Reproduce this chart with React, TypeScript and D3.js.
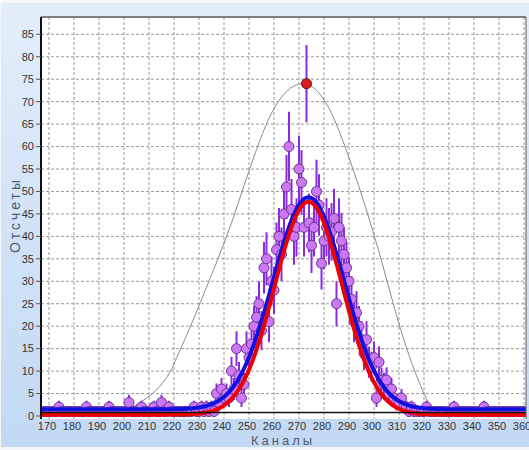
import React from "react";
import * as d3 from "d3";

// Spectrum counts, one value per channel starting at FIRST_CHANNEL
const FIRST_CHANNEL = 168;
const counts: number[] = [
  // 168-232
  1, 1, 1, 1, 1, 1, 2, 1, 1, 1, 1, 1, 1, 1, 1, 1, 1, 2, 1, 1, 1, 1, 1, 1, 1, 1,
  2, 1, 1, 1, 1, 1, 1, 1, 3, 1, 1, 1, 1, 2, 1, 1, 1, 1, 2, 1, 1, 3, 1, 1, 2, 1,
  1, 1, 1, 1, 1, 1, 1, 1, 2, 1, 1, 2, 1,
  // 233-316
  2, 1, 2, 1, 5, 3, 6, 4, 5, 4, 10, 6, 15, 9, 4, 7, 15, 13, 16, 20, 22, 25, 19,
  33, 35, 21, 30, 28, 37, 40, 36, 45, 51, 60, 46, 40, 42, 55, 52, 42, 74, 43,
  38, 42, 50, 47, 34, 39, 42, 40, 41, 44, 25, 42, 39, 36, 33, 30, 26, 21, 23,
  20, 17, 14, 17, 12, 11, 13, 4, 12, 8, 7, 8, 5, 6, 4, 3, 3, 4, 2, 2, 1, 2, 1,
  // 317-360
  1, 1, 1, 1, 2, 1, 1, 1, 1, 1, 1, 1, 1, 1, 1, 2, 1, 1, 1, 1, 1, 1, 1, 1, 1, 1,
  1, 2, 1, 1, 1, 1, 1, 1, 1, 1, 1, 1, 1, 1, 1, 1, 1, 1,
];
const channels = counts.map((_, i) => FIRST_CHANNEL + i);
const SELECTED_CHANNEL = 273;

// Initial peak estimate (thin grey curve): channel / counts
const guessChannels = [
  198, 204, 208, 213, 218, 222, 226, 232, 238, 243, 248, 253, 258, 263, 268,
  272.7, 277, 282, 286, 290, 294, 298, 302, 306, 310, 314, 318, 321, 324,
];
const guessCounts = [
  0.3, 2.2, 3.6, 5.8, 9.4, 14.2, 19.2, 27.3, 35.6, 43, 51.3, 59.3, 66.3, 71,
  73.5, 74, 72.5, 68.5, 63.5, 57.5, 51, 44, 36.5, 28.5, 20.5, 13.5, 7.6, 3.8,
  0.6,
];

// Gaussian fit parameters: [baseline, amplitude, centre, sigma]
const fitBlue = [1.5, 47.2, 273.8, 14.2];
const fitRed = [0.3, 47.4, 273.8, 13.5];

const xTicks = d3.range(170, 361, 10);
const yTicks = d3.range(0, 86, 5);

const W = 529;
const H = 450;
const PL = 41;
const PT = 17;
const PR = 526;
const PB = 419;

const gauss = (p: number[], c: number) =>
  p[0] + p[1] * Math.exp(-((c - p[2]) ** 2) / (2 * p[3] * p[3]));

export default function App() {
  const x = d3.scaleLinear().domain([170, 360]).range([49, 524]);
  const y = d3.scaleLinear().domain([0, 85]).range([416, 34.3]);

  const fitX = d3.range(x.invert(PL), x.invert(PR) + 0.5, 0.5);
  const line = d3
    .line<[number, number]>()
    .x((d) => x(d[0]))
    .y((d) => y(d[1]));
  const blueD = line(fitX.map((c) => [c, gauss(fitBlue, c)]) as [number, number][]);
  const redD = line(fitX.map((c) => [c, gauss(fitRed, c)]) as [number, number][]);
  const guessD = d3
    .line<number>()
    .x((_, i) => x(guessChannels[i]))
    .y((d) => y(d))
    .curve(d3.curveCatmullRom.alpha(0.5))(guessCounts);

  const font = "'Liberation Sans', Arial, sans-serif";
  const sel = counts[SELECTED_CHANNEL - FIRST_CHANNEL];

  return (
    <svg
      width={W}
      height={H}
      style={{ position: "absolute", left: 0, top: 0 }}
      fontFamily={font}
    >
      <defs>
        <linearGradient id="bg" x1="0" y1="0" x2="0" y2="1">
          <stop offset="0" stopColor="#e3eefa" />
          <stop offset="0.5" stopColor="#d2e3f7" />
          <stop offset="1" stopColor="#c3d9f3" />
        </linearGradient>
        <clipPath id="plot">
          <rect x={PL} y={PT} width={PR - PL} height={PB - PT} />
        </clipPath>
      </defs>
      <rect x={0} y={0} width={W} height={H} fill="#f4f7fb" />
      <rect x={1} y={3} width={W - 1} height={H - 6} fill="url(#bg)" />
      <rect x={PL} y={PT} width={PR - PL} height={PB - PT} fill="#ffffff" />

      {/* grid */}
      <g stroke="#9a9a9a" strokeWidth={1} strokeDasharray="3,2">
        {xTicks.map((t) => (
          <line key={"gx" + t} x1={x(t)} x2={x(t)} y1={PT} y2={PB} />
        ))}
        {yTicks
          .filter((t) => t > 0)
          .map((t) => (
            <line key={"gy" + t} x1={PL} x2={PR} y1={y(t)} y2={y(t)} />
          ))}
      </g>

      <g clipPath="url(#plot)">
        <path d={guessD ?? ""} fill="none" stroke="#8c8c8c" strokeWidth={1} />

        {/* error bars (sqrt N) */}
        <g stroke="#8a2be2" strokeWidth={2}>
          {channels.map((c, i) => {
            const e = Math.sqrt(counts[i]);
            return (
              <line
                key={"e" + c}
                x1={x(c)}
                x2={x(c)}
                y1={y(counts[i] - e)}
                y2={y(counts[i] + e)}
              />
            );
          })}
        </g>
        <g fill="#cc78f5" stroke="#6e3290" strokeWidth={1}>
          {channels.map((c, i) =>
            c === SELECTED_CHANNEL ? null : (
              <circle key={"p" + c} cx={x(c)} cy={y(counts[i])} r={5} />
            )
          )}
        </g>

        <path d={blueD ?? ""} fill="none" stroke="#1010e0" strokeWidth={4} />
        <path d={redD ?? ""} fill="none" stroke="#ee0000" strokeWidth={4} />
        <line x1={PL} x2={PR} y1={y(0.8)} y2={y(0.8)} stroke="#111" strokeWidth={1.5} />

        <circle
          cx={x(SELECTED_CHANNEL)}
          cy={y(sel)}
          r={5}
          fill="#dc1c1c"
          stroke="#6a0c0c"
          strokeWidth={1}
        />
      </g>

      {/* frame */}
      <line x1={PL} x2={PR} y1={PT} y2={PT} stroke="#5a5a5a" strokeWidth={1.5} />
      <line x1={PR} x2={PR} y1={PT} y2={PB} stroke="#5a5a5a" strokeWidth={1} />
      <line x1={PL} x2={PL} y1={PT} y2={PB} stroke="#111" strokeWidth={2} />

      {/* y axis */}
      {yTicks.map((t) => (
        <g key={"yt" + t}>
          <line x1={36} x2={PL} y1={y(t)} y2={y(t)} stroke="#555" />
          <text
            x={34}
            y={y(t)}
            dy="0.35em"
            textAnchor="end"
            fontSize={11}
            fill="#333"
          >
            {t}
          </text>
        </g>
      ))}
      {/* x axis */}
      {xTicks.map((t) => (
        <text
          key={"xt" + t}
          x={x(t) - 2}
          y={430}
          textAnchor="middle"
          fontSize={11}
          fill="#333"
        >
          {t}
        </text>
      ))}

      <text
        x={283}
        y={445}
        textAnchor="middle"
        fontSize={13}
        letterSpacing={3}
        fill="#4c5b6e"
      >
        Каналы
      </text>
      <text
        transform="translate(20,215) rotate(-90)"
        textAnchor="middle"
        fontSize={14}
        letterSpacing={3}
        fill="#4c5b6e"
      >
        Отсчеты
      </text>
    </svg>
  );
}
